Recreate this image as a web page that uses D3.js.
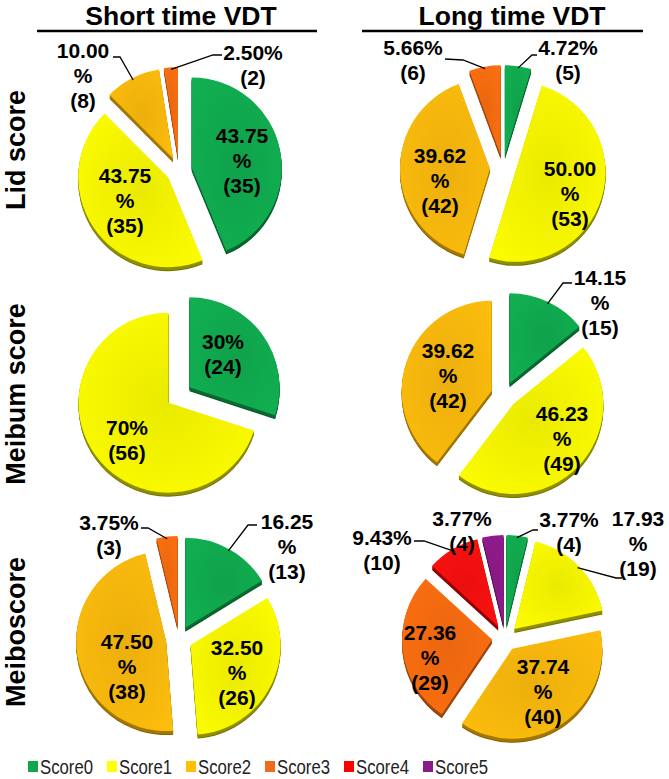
<!DOCTYPE html>
<html><head><meta charset="utf-8">
<script src="https://cdn.jsdelivr.net/npm/d3@7"></script>
<style>html,body{margin:0;padding:0;background:#fff}svg{display:block}</style>
</head><body><div id="chart"></div>
<script>
// ---- data ----
const categories = ["Score0","Score1","Score2","Score3","Score4","Score5"];
const columns = ["Short time VDT","Long time VDT"];
const rows = ["Lid score","Meibum score","Meiboscore"];

const shortLidCounts = [35,35,8,2];
const shortLidPct = ["43.75","43.75","10.00","2.50"];
const longLidCounts = [5,53,42,6];
const longLidPct = ["4.72","50.00","39.62","5.66"];
const shortMeibumCounts = [24,56];
const shortMeibumPct = ["30","70"];
const longMeibumCounts = [15,49,42];
const longMeibumPct = ["14.15","46.23","39.62"];
const shortMeiboCounts = [13,26,38,3];
const shortMeiboPct = ["16.25","32.50","47.50","3.75"];
const longMeiboCounts = [4,19,40,29,10,4];
const longMeiboPct = ["3.77","17.93","37.74","27.36","9.43","3.77"];

// ---- styles ----
const topColors = ["#10a84e","#f2f200","#f5b50c","#f26a10","#f21010","#8b1a88"];
const rimColors = ["#0a6a31","#8f8f00","#a57800","#a3470a","#9a0000","#560f55"];
const legendColors = ["#12a64e","#ffff00","#ffc000","#f26a1b","#ff0000","#8b1a88"];

const W = 669, H = 779, R = 90, EXPLODE = 13, DEPTH = 4, LINE = 25;

const svg = d3.select("#chart").append("svg").attr("width", W).attr("height", H)
  .style("font-family", "'Liberation Sans', Arial, sans-serif");

const defs = svg.append("defs");
topColors.forEach((c, i) => {
  const g = defs.append("radialGradient").attr("id", "grad" + i)
    .attr("cx", "50%").attr("cy", "50%").attr("r", "75%");
  g.append("stop").attr("offset", "0%").attr("stop-color", d3.color(c).darker(0.1));
  g.append("stop").attr("offset", "100%").attr("stop-color", d3.color(c).brighter(0.15));
});

// ---- layout (label placement relative to pie center) ----
const charts = [
  { counts: shortLidCounts, pct: shortLidPct, cx: 179, cy: 170, labels: [
    {dx:63, dy:-10, wrap:true},
    {dx:-54, dy:30, wrap:true},
    {dx:-96, dy:-95, wrap:true, lead:[[-66,-113],[-59,-113]]},
    {dx:74, dy:-105, wrap:false, lead:[[43,-115],[34,-115]]} ]},
  { counts: longLidCounts, pct: longLidPct, cx: 503, cy: 168, labels: [
    {dx:65, dy:-108, wrap:false, lead:[[34,-113],[29,-113]]},
    {dx:67, dy:25, wrap:true},
    {dx:-63, dy:12, wrap:true},
    {dx:-90, dy:-108, wrap:false, lead:[[-58,-109],[-40,-108]]} ]},
  { counts: shortMeibumCounts, pct: shortMeibumPct, cx: 179, cy: 395, labels: [
    {dx:44, dy:-41, wrap:false},
    {dx:-52, dy:45, wrap:false} ]},
  { counts: longMeibumCounts, pct: longMeibumPct, cx: 504, cy: 395, labels: [
    {dx:96, dy:-93, wrap:true, lead:[[68,-112],[59,-112]]},
    {dx:58, dy:43, wrap:true},
    {dx:-56, dy:-20, wrap:true} ]},
  { counts: shortMeiboCounts, pct: shortMeiboPct, cx: 179, cy: 639, labels: [
    {dx:108, dy:-93, wrap:true, lead:[[78,-114],[69,-114]]},
    {dx:58, dy:33, wrap:true},
    {dx:-52, dy:27, wrap:true},
    {dx:-70, dy:-104, wrap:false, lead:[[-38,-111],[-31,-111]]} ]},
  { counts: longMeiboCounts, pct: longMeiboPct, cx: 505, cy: 638, labels: [
    {dx:64, dy:-106, wrap:false, lead:[[33,-108],[28,-108]]},
    {dx:133, dy:-95, wrap:true, lead:[[117,-60],[111,-60]]},
    {dx:38, dy:53, wrap:true},
    {dx:-75, dy:19, wrap:true},
    {dx:-123, dy:-88, wrap:false, lead:[[-91,-97],[-81,-97]]},
    {dx:-43, dy:-107, wrap:false} ]}
];

const pie = d3.pie().sort(null).value(d => d);
const arc = d3.arc().innerRadius(0).outerRadius(R);

charts.forEach(ch => {
  const g = svg.append("g").attr("transform", `translate(${ch.cx},${ch.cy})`);
  const arcs = pie(ch.counts).map((d, i) => {
    const mid = (d.startAngle + d.endAngle) / 2;
    return Object.assign(d, { i, mid, ox: EXPLODE * Math.sin(mid), oy: -EXPLODE * Math.cos(mid) });
  });
  // rims (3D depth)
  arcs.forEach(d => {
    for (let k = DEPTH; k >= 1; k--) {
      g.append("path").attr("d", arc(d))
        .attr("transform", `translate(${d.ox},${d.oy + k})`)
        .attr("fill", k === DEPTH ? d3.color(rimColors[d.i]).darker(0.6) : rimColors[d.i]);
    }
  });
  // top faces
  arcs.forEach(d => {
    g.append("path").attr("d", arc(d))
      .attr("transform", `translate(${d.ox},${d.oy})`)
      .attr("fill", `url(#grad${d.i})`);
  });
  // leader lines
  arcs.forEach(d => {
    const L = ch.labels[d.i];
    if (!L.lead) return;
    const ex = d.ox + (R - 2) * Math.sin(d.mid), ey = d.oy - (R - 2) * Math.cos(d.mid);
    const pts = [L.lead[0], L.lead[1], [ex, ey]];
    g.append("path").attr("d", d3.line()(pts))
      .attr("fill", "none").attr("stroke", "#000").attr("stroke-width", 1.3);
  });
  // labels
  arcs.forEach(d => {
    const L = ch.labels[d.i];
    const lines = L.wrap ? [ch.pct[d.i], "%", `(${ch.counts[d.i]})`] : [ch.pct[d.i] + "%", `(${ch.counts[d.i]})`];
    const y0 = L.dy - (lines.length - 1) * LINE / 2;
    const t = g.append("text").attr("text-anchor", "middle")
      .attr("font-size", 21).attr("font-weight", "bold").attr("fill", "#000");
    lines.forEach((s, j) => {
      t.append("tspan").attr("x", L.dx).attr("y", y0 + j * LINE + 7.5).text(s);
    });
  });
});

// ---- column headers ----
const colX = [181, 512];
const ulX = [[37, 317], [362, 643]];
columns.forEach((c, i) => {
  svg.append("text").attr("x", colX[i]).attr("y", 24.5).attr("text-anchor", "middle")
    .attr("font-size", 26.5).attr("font-weight", "bold").text(c);
  svg.append("line").attr("x1", ulX[i][0]).attr("x2", ulX[i][1]).attr("y1", 31).attr("y2", 31)
    .attr("stroke", "#000").attr("stroke-width", 2.5);
});

// ---- row labels ----
const rowY = [150, 394, 632];
rows.forEach((r, i) => {
  svg.append("text").attr("transform", `translate(25,${rowY[i]}) rotate(-90)`)
    .attr("text-anchor", "middle").attr("font-size", 27).attr("font-weight", "bold").text(r);
});

// ---- legend ----
const lx = d3.scalePoint().domain(categories).range([28, 423]);
const leg = svg.append("g").style("font-family", "'Liberation Sans Narrow', 'Arial Narrow', 'Liberation Sans', sans-serif");
categories.forEach((c, i) => {
  const x = lx(c);
  leg.append("rect").attr("x", x).attr("y", 761).attr("width", 10).attr("height", 11).attr("fill", legendColors[i]);
  leg.append("text").attr("x", x + 12).attr("y", 774)
    .attr("textLength", 53).attr("lengthAdjust", "spacingAndGlyphs")
    .attr("font-size", 20.5).attr("fill", "#222").text(c);
});
</script></body></html>
